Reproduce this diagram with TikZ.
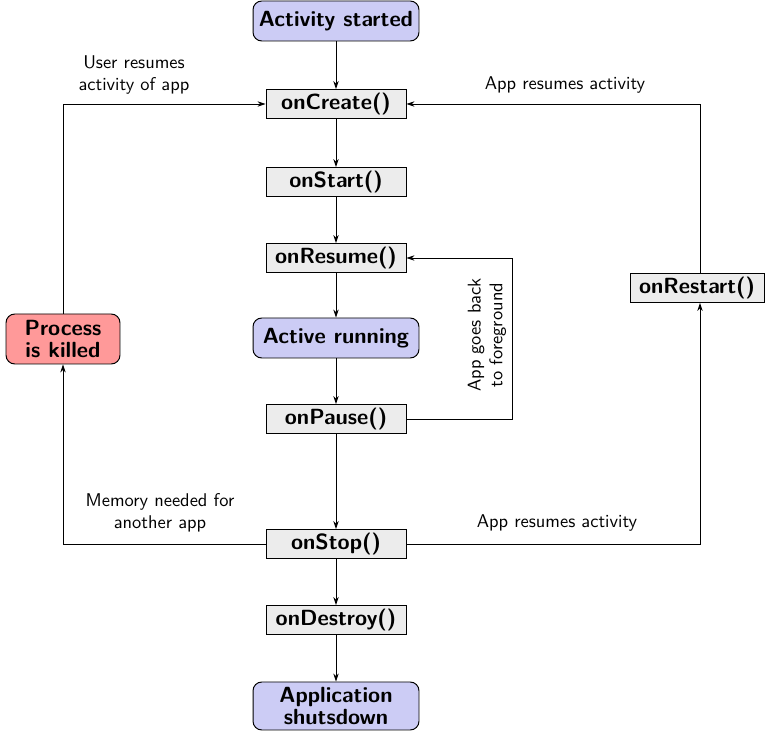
\documentclass[tikz,border=0pt]{standalone}
\usetikzlibrary{arrows.meta}
\definecolor{stateblue}{RGB}{204,204,245}
\definecolor{killred}{RGB}{255,153,153}
\definecolor{callgray}{RGB}{236,236,236}
\tikzset{
  callbox/.style={draw, line width=0.55pt, fill=callgray, minimum width=2.8cm, minimum height=0.58cm,
    inner sep=1pt, font=\sffamily\bfseries\fontsize{12.5}{14}\selectfont},
  statebox/.style={draw, line width=0.55pt, fill=stateblue, rounded corners=5pt, minimum width=3.32cm,
    minimum height=0.8cm, inner sep=2pt, align=center, font=\sffamily\bfseries\fontsize{12.5}{14}\selectfont},
  lbl/.style={font=\sffamily\fontsize{10.5}{12.5}\selectfont, align=center, inner sep=0pt},
  flow/.style={line width=0.55pt, -{Stealth[length=4.5pt,width=3pt]}}
}
\begin{document}
\begin{tikzpicture}[x=0.02cm,y=-0.02cm]
  \useasboundingbox (0,0) rectangle (765,732);

  % lifecycle states and callbacks
  \node[statebox] (started) at (336,21) {Activity started};
  \node[callbox] (create) at (336,104) {onCreate()};
  \node[callbox] (start) at (336,182) {onStart()};
  \node[callbox] (resume) at (336,258) {onResume()};
  \node[statebox] (running) at (336,338) {Active running};
  \node[callbox] (pause) at (336,419) {onPause()};
  \node[callbox] (stop) at (336,544) {onStop()};
  \node[callbox] (destroy) at (336,620) {onDestroy()};
  \node[statebox, minimum height=0.96cm] (shut) at (336,706) {Application\\[-1pt]shutsdown};
  \node[statebox, fill=killred, minimum width=2.28cm, minimum height=1.0cm] (killed) at (63,339) {Process\\[-1pt]is killed};
  \node[callbox, minimum width=2.68cm] (restart) at (697,288) {onRestart()};

  % bends of the side loops
  \coordinate (fgR) at (512,0);
  \coordinate (leftX) at (63,0);
  \coordinate (rightX) at (700,0);

  % main sequence
  \draw[flow] (started) -- (create);
  \draw[flow] (create) -- (start);
  \draw[flow] (start) -- (resume);
  \draw[flow] (resume) -- (running);
  \draw[flow] (running) -- (pause);
  \draw[flow] (pause) -- (stop);
  \draw[flow] (stop) -- (destroy);
  \draw[flow] (destroy) -- (shut);

  % pause back to resume
  \draw[flow] (pause.east) -| (fgR |- pause) -- (fgR |- resume) -- (resume.east);
  \node[lbl, rotate=90] (fglbl) at (487,335) {App goes back\\to foreground};

  % stop to killed, killed back to create
  \draw[flow] (stop.west) -- (leftX |- stop) -- (killed.south);
  \node[lbl] (memlbl) at (160,513) {Memory needed for\\another app};
  \draw[flow] (killed.north) -- (leftX |- create) -- (create.west);
  \node[lbl] (userlbl) at (134,75) {User resumes\\activity of app};

  % stop to restart, restart back to create
  \draw[flow] (stop.east) -- (rightX |- stop) -- (rightX |- restart.south);
  \node[lbl] (reslbl1) at (557,523) {App resumes activity};
  \draw[flow] (rightX |- restart.north) -- (rightX |- create) -- (create.east);
  \node[lbl] (reslbl2) at (565,85) {App resumes activity};
\end{tikzpicture}
\end{document}
